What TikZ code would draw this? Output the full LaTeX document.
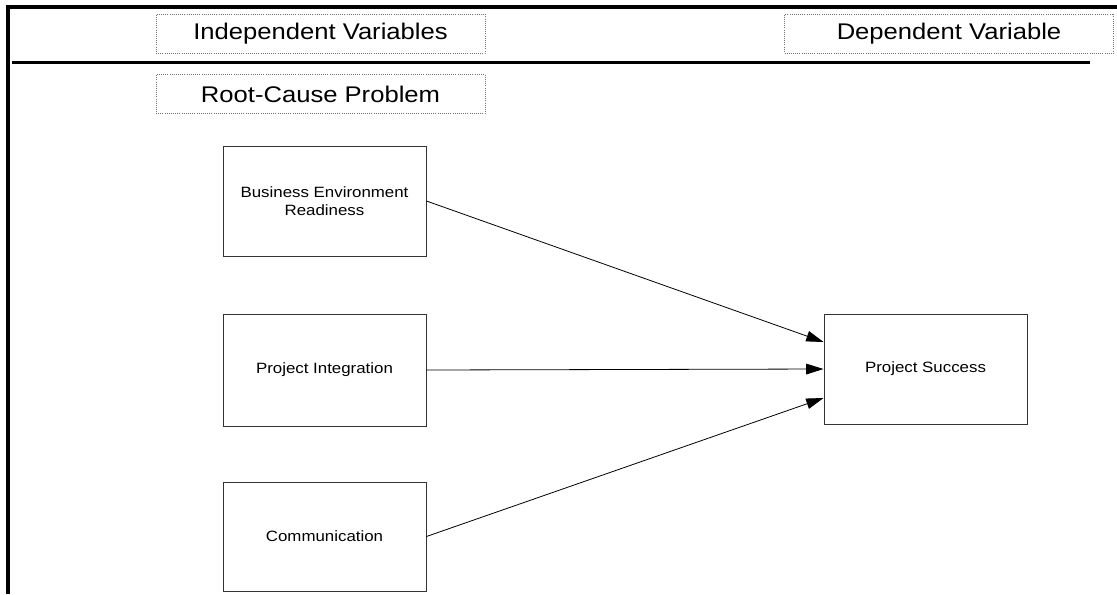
\documentclass[tikz,border=0pt]{standalone}
\usepackage{fontspec}
\setmainfont[FakeStretch=1.13]{Liberation Sans}
\usetikzlibrary{arrows.meta,calc}
\tikzset{
  px/.style={x=0.75pt,y=-0.75pt},
  labelbox/.style={draw=black!55,densely dotted,line width=0.6pt,minimum width=246.75pt,minimum height=29.25pt,inner sep=0pt,font=\fontsize{17}{19}\selectfont},
  varbox/.style={draw=black!80,line width=0.7pt,minimum width=152.25pt,inner sep=0pt,align=center,font=\fontsize{11.2}{13.5}\selectfont},
  conn/.style={line width=0.6pt,-{Triangle[length=13pt,width=8pt]}},
  frame/.style={line width=3pt},
  rule/.style={line width=2pt}
}
\begin{document}
\begin{tikzpicture}[px]
\useasboundingbox (0,0) rectangle (1117,594);
% frame lines
\draw[frame] (1117,6.5) -- (8,6.5) -- (8,594);
\draw[rule] (12,62.5) -- (1090,62.5);
% header labels
\node[labelbox] (iv) at (320.5,33.5) {Independent Variables};
\node[labelbox] (dv) at (949,33.5) {Dependent Variable};
\node[labelbox] (rc) at (320.5,94) {Root-Cause Problem};
% variable boxes
\node[varbox,minimum height=82.5pt] (ber) at (324.5,201) {Business Environment\\Readiness};
\node[varbox,minimum height=84pt] (pi) at (324.5,370) {Project Integration};
\node[varbox,minimum height=81.75pt] (com) at (324.5,536.5) {Communication};
\node[varbox,minimum height=82.5pt] (ps) at (925.5,369) {Project Success};
% arrow targets
\coordinate (t1) at ([yshift=20.25pt]ps.west);
\coordinate (t2) at (ps.west);
\coordinate (t3) at ([yshift=-21.75pt]ps.west);
\draw[conn] (ber.east) -- (t1);
\draw[conn] (pi.east) -- (t2);
\draw[conn] (com.east) -- (t3);
\end{tikzpicture}
\end{document}
